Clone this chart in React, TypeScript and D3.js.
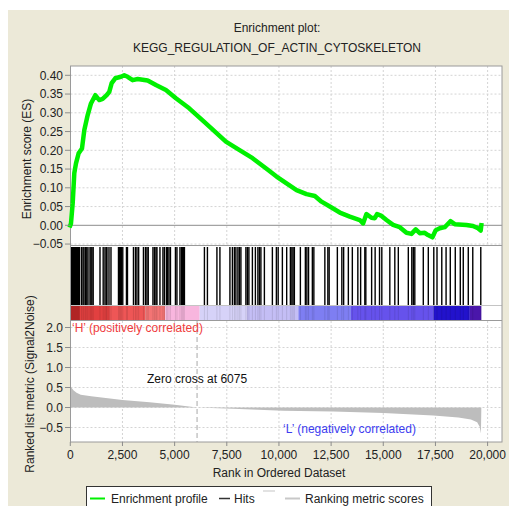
import React from 'react';
import * as d3 from 'd3';

const title1 = 'Enrichment plot:';
const title2 = 'KEGG_REGULATION_OF_ACTIN_CYTOSKELETON';

const esRanks = [0, 33, 115, 192, 273, 400, 560, 672, 833, 991, 1198, 1389, 1550, 1743, 1868, 1983, 2155, 2428, 2586, 2749, 2988, 3228, 3707, 4104, 4583, 5062, 5700, 6499, 7457, 8094, 8736, 9373, 9885, 10364, 10843, 11322, 11720, 12040, 12438, 12917, 13396, 13875, 14032, 14193, 14433, 14593, 14703, 14914, 15153, 15470, 15790, 16111, 16350, 16556, 16748, 16987, 17146, 17356, 17514, 17706, 17946, 18218, 18424, 18985, 19301, 19540, 19670, 19700];
const esValues = [0, 0.005, 0.059, 0.139, 0.165, 0.192, 0.205, 0.254, 0.294, 0.325, 0.347, 0.334, 0.337, 0.347, 0.356, 0.379, 0.392, 0.396, 0.4, 0.396, 0.387, 0.39, 0.386, 0.374, 0.361, 0.339, 0.312, 0.272, 0.223, 0.201, 0.179, 0.152, 0.13, 0.112, 0.094, 0.083, 0.078, 0.063, 0.05, 0.034, 0.023, 0.014, 0.005, 0.03, 0.02, 0.019, 0.03, 0.025, 0.014, 0.001, -0.005, -0.02, -0.023, -0.011, -0.021, -0.02, -0.026, -0.032, -0.013, -0.008, -0.005, 0.011, 0.003, 0.001, -0.002, -0.008, -0.014, 0.0];

const hitRanks = [57, 105, 153, 201, 249, 297, 345, 393, 441, 536, 608, 656, 728, 790, 848, 944, 992, 1039, 1097, 1423, 1576, 1662, 1724, 1758, 1854, 1950, 2309, 2357, 2405, 2452, 2515, 2692, 2740, 3027, 3123, 3195, 3276, 3506, 3602, 3674, 3736, 3961, 4033, 4105, 4153, 4297, 4440, 4512, 4608, 4656, 4728, 4800, 5039, 5111, 5255, 5326, 5374, 5422, 5470, 6428, 6572, 7027, 7171, 7650, 7769, 7865, 7937, 8033, 8105, 8177, 8416, 8488, 8560, 8727, 8871, 8991, 9063, 9135, 9302, 9685, 9877, 9963, 10164, 10370, 10548, 10619, 10677, 10739, 11027, 11266, 11338, 11419, 11601, 11673, 12200, 12344, 12406, 12799, 13014, 13101, 13326, 13517, 13781, 13915, 14116, 14164, 14442, 14610, 14820, 14930, 15314, 15553, 15721, 16200, 16367, 16439, 16511, 16918, 17158, 17421, 17575, 17804, 18010, 18212, 18451, 18691, 18834, 19074, 19289, 19673];

const metricRanks = [0, 50, 150, 300, 500, 1000, 1500, 2500, 3800, 5000, 6075, 7800, 10200, 12600, 15000, 17400, 18600, 19200, 19500, 19620, 19680, 19700];
const metricValues = [0.58, 0.5, 0.43, 0.37, 0.32, 0.28, 0.25, 0.19, 0.13, 0.07, 0.0, -0.03, -0.08, -0.1, -0.14, -0.2, -0.25, -0.3, -0.37, -0.48, -0.65, 0];

const bandStarts = [0, 450, 1900, 3600, 4550, 6200, 8450, 10930, 13450, 17400, 19150];
const bandEnds = [450, 1900, 3600, 4550, 6200, 8450, 10930, 13450, 17400, 19150, 19700];
const bandColors = ['#C42A2A', '#E24040', '#EE5656', '#F37474', '#F8B6DE', '#D6D2F8', '#C4BEF5', '#7E7EF2', '#6652EC', '#2212CC', '#4A16AA'];

const xTicks = [0, 2500, 5000, 7500, 10000, 12500, 15000, 17500, 20000];
const esTicks = [0.4, 0.35, 0.3, 0.25, 0.2, 0.15, 0.1, 0.05, 0.0, -0.05];
const metricTicks = [2.0, 1.5, 1.0, 0.5, 0.0, -0.5];
const zeroCross = 6075;

const legendLabels = ['Enrichment profile', 'Hits', 'Ranking metric scores'];

const FONT = '"Liberation Sans", Arial, sans-serif';

export default function App() {
  const left = 70.5;
  const right = 502;
  const esTop = 66;
  const esBottom = 245.5;
  const hitsTop = 247;
  const hitsBottom = 305.5;
  const bandTop = 306;
  const bandBottom = 320;
  const rkTop = 321;
  const rkBottom = 442;

  const x = d3.scaleLinear().domain([0, 20000]).range([70.3, 487.6]);
  const yES = d3.scaleLinear().domain([-0.05, 0.4]).range([244.05, 75.3]);
  const yR = d3.scaleLinear().domain([-0.5, 2.0]).range([427.5, 327.5]);

  const esLine = d3.line<number>()
    .x((_, i) => x(esRanks[i]))
    .y((d) => yES(d));
  const metricArea = d3.area<number>()
    .x((_, i) => x(metricRanks[i]))
    .y0(yR(0))
    .y1((d) => yR(d));

  const fmtX = d3.format(',');
  const fmtES = d3.format('.2f');
  const fmtR = d3.format('.1f');

  return (
    <svg width={509} height={506} style={{ position: 'absolute', left: 0, top: 0 }} fontFamily={FONT}>
      <rect x={0} y={0} width={509} height={506} fill="#ffffff" />
      <rect x={8} y={10} width={501} height={496} fill="#ECE9D8" />
      <text x={277} y={32} textAnchor="middle" fontSize={12} fill="#222">{title1}</text>
      <text x={277} y={52} textAnchor="middle" fontSize={12} fill="#222">{title2}</text>

      {/* plot background */}
      <rect x={left} y={esTop} width={right - left} height={rkBottom - esTop} fill="#ffffff" />

      {/* ES grid */}
      {xTicks.slice(1).map((t) => (
        <line key={'gx' + t} x1={x(t)} x2={x(t)} y1={esTop} y2={esBottom} stroke="#D4D4D4" strokeDasharray="2,2" />
      ))}
      {esTicks.filter((t) => t !== 0).map((t) => (
        <line key={'gy' + t} x1={left} x2={right} y1={yES(t)} y2={yES(t)} stroke="#D4D4D4" strokeDasharray="2,2" />
      ))}
      <line x1={left} x2={right} y1={yES(0)} y2={yES(0)} stroke="#8C8C8C" strokeWidth={1} />

      {/* ranked grid */}
      {xTicks.slice(1).map((t) => (
        <line key={'rgx' + t} x1={x(t)} x2={x(t)} y1={rkTop} y2={rkBottom} stroke="#D4D4D4" strokeDasharray="2,2" />
      ))}
      {metricTicks.map((t) => (
        <line key={'rgy' + t} x1={left} x2={right} y1={yR(t)} y2={yR(t)} stroke="#D4D4D4" strokeDasharray="2,2" />
      ))}

      {/* ranked metric area */}
      <path d={metricArea(metricValues) || ''} fill="#BDBDBD" stroke="none" />
      <line x1={x(zeroCross)} x2={x(zeroCross)} y1={rkTop} y2={rkBottom} stroke="#A8A8A8" strokeDasharray="5,3" />

      {/* hits */}
      {hitRanks.map((r, i) => (
        <line key={'h' + i} x1={x(r)} x2={x(r)} y1={hitsTop} y2={hitsBottom} stroke="#000" strokeWidth={1.4} />
      ))}

      {/* colour band */}
      {bandColors.map((c, i) => (
        <rect key={'b' + i} x={x(bandStarts[i]) + (i === 0 ? 0.7 : 0)} y={bandTop} width={x(bandEnds[i]) - x(bandStarts[i])} height={bandBottom - bandTop} fill={c} />
      ))}
      {hitRanks.map((r, i) => (
        <line key={'bs' + i} x1={x(r)} x2={x(r)} y1={bandTop} y2={bandBottom} stroke="#000" strokeOpacity={0.1} strokeWidth={1} />
      ))}

      {/* panel separators */}
      <line x1={left} x2={right} y1={esBottom} y2={esBottom} stroke="#9A9A9A" />
      <line x1={left} x2={right} y1={305.5} y2={305.5} stroke="#C4C4C4" />
      <line x1={left} x2={right} y1={320.5} y2={320.5} stroke="#9A9A9A" />
      <rect x={left} y={esTop} width={right - left} height={rkBottom - esTop} fill="none" stroke="#9A9A9A" />

      {/* ES curve */}
      <path d={esLine(esValues) || ''} fill="none" stroke="#00F000" strokeWidth={4.5} strokeLinejoin="round" strokeLinecap="square" />

      {/* annotations */}
      <text x={72} y={332} fontSize={12} fill="#F03C3C">‘H’ (positively correlated)</text>
      <text x={x(zeroCross)} y={383} fontSize={12} fill="#111" textAnchor="middle">Zero cross at {zeroCross}</text>
      <text x={283} y={433} fontSize={12} fill="#3C3CF0">‘L’ (negatively correlated)</text>

      {/* ES y axis */}
      {esTicks.map((t) => (
        <g key={'ey' + t}>
          <line x1={65} x2={left} y1={yES(t)} y2={yES(t)} stroke="#8C8C8C" />
          <text x={63} y={yES(t) + 4.3} fontSize={12} textAnchor="end" fill="#222">{fmtES(t)}</text>
        </g>
      ))}
      {/* ranked y axis */}
      {metricTicks.map((t) => (
        <g key={'ry' + t}>
          <line x1={65} x2={left} y1={yR(t)} y2={yR(t)} stroke="#8C8C8C" />
          <text x={63} y={yR(t) + 4.3} fontSize={12} textAnchor="end" fill="#222">{fmtR(t)}</text>
        </g>
      ))}
      {/* x axis */}
      {xTicks.map((t) => (
        <g key={'xt' + t}>
          <line x1={x(t)} x2={x(t)} y1={rkBottom} y2={rkBottom + 4} stroke="#8C8C8C" />
          <text x={x(t)} y={458.5} fontSize={12} textAnchor="middle" fill="#222">{fmtX(t)}</text>
        </g>
      ))}
      <text x={279} y={477} fontSize={12} textAnchor="middle" fill="#222">Rank in Ordered Dataset</text>

      <text transform="translate(31,159) rotate(-90)" fontSize={12} textAnchor="middle" fill="#222">Enrichment score (ES)</text>
      <text transform="translate(34,384) rotate(-90)" fontSize={12} textAnchor="middle" fill="#222">Ranked list metric (Signal2Noise)</text>

      {/* legend */}
      <rect x={86.5} y={486.5} width={345} height={30} fill="#ffffff" stroke="#333" />
      <line x1={90} x2={105} y1={498.5} y2={498.5} stroke="#00F000" strokeWidth={2} />
      <text x={111} y={502.5} fontSize={12} fill="#222">{legendLabels[0]}</text>
      <line x1={219} x2={230} y1={498.5} y2={498.5} stroke="#333" strokeWidth={1.5} />
      <text x={234} y={502.5} fontSize={12} fill="#222">{legendLabels[1]}</text>
      <line x1={263} x2={275} y1={491} y2={491} stroke="#D8D8D8" strokeWidth={1.5} />
      <line x1={285} x2={300} y1={498.5} y2={498.5} stroke="#C8C8C8" strokeWidth={2} />
      <text x={305} y={502.5} fontSize={12} fill="#222">{legendLabels[2]}</text>
    </svg>
  );
}
